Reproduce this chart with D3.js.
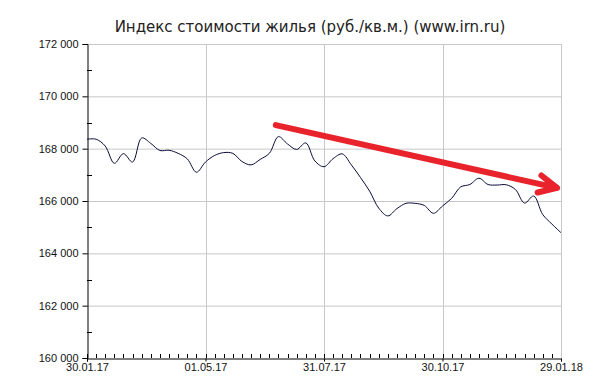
<!DOCTYPE html>
<html><head><meta charset="utf-8">
<script src="https://cdn.jsdelivr.net/npm/d3@7"></script>
<style>html,body{margin:0;padding:0;background:#fff;}</style>
</head><body>
<svg id="c" width="615" height="386"></svg>
<script>
const title = "Индекс стоимости жилья (руб./кв.м.) (www.irn.ru)";
const startDate = "2017-01-30";
const endDate = "2018-01-29";
const xTickDates = ["2017-01-30","2017-05-01","2017-07-31","2017-10-30","2018-01-29"];
const yTicks = [160000,162000,164000,166000,168000,170000,172000];
const yMinorTicks = [161000,163000,165000,167000,169000,171000];
// weekly index values, starting 30.01.17
const values = [
 168360,168360,168100,167440,167810,167490,168410,168200,167930,167940,
 167820,167610,167100,167490,167740,167850,167820,167510,167380,167590,
 167820,168460,168180,167970,168220,167530,167310,167620,167800,167380,
 166900,166380,165730,165430,165710,165910,165910,165830,165530,165810,
 166100,166540,166630,166870,166630,166610,166620,166440,165920,166190,
 165480,165120,164790
];
const arrowStart = ["2017-06-24", 168900];
const arrowEnd = ["2018-01-26", 166500];

const parse = d3.utcParse("%Y-%m-%d");
const t0 = parse(startDate);
const dates = values.map((v,i)=>d3.utcDay.offset(t0, i*7));
const data = values.map((v,i)=>({d:dates[i], v}));

const svg = d3.select("#c");
const L=87,R=561,T=44,B=358;
const x = d3.scaleUtc().domain([parse(startDate), parse(endDate)]).range([L,R]);
const y = d3.scaleLinear().domain([160000,172000]).range([B,T]);
const loc = d3.formatLocale({decimal:",",thousands:" ",grouping:[3],currency:["",""]});
const fy = loc.format(",d");
const fx = d3.utcFormat("%d.%m.%y");

// grid
const g = svg.append("g");
g.selectAll("line.hg").data(yTicks.slice(1)).join("line")
  .attr("x1",L).attr("x2",R).attr("y1",d=>y(d)+0.5).attr("y2",d=>y(d)+0.5)
  .attr("stroke","#c8c8c8");
g.selectAll("line.vg").data(xTickDates.slice(1).map(parse)).join("line")
  .attr("x1",d=>Math.round(x(d))+0.5).attr("x2",d=>Math.round(x(d))+0.5)
  .attr("y1",T).attr("y2",B).attr("stroke","#c8c8c8");

// title
svg.append("text").attr("x",310).attr("y",32).attr("text-anchor","middle")
  .attr("font-family","DejaVu Sans").attr("font-size",15).attr("fill","#222")
  .text(title);

// y axis
const yAxis = svg.append("g").attr("transform",`translate(${L+0.5},0)`)
  .call(d3.axisLeft(y).tickValues(yTicks).tickFormat(fy).tickSize(5).tickPadding(4));
yAxis.select(".domain").attr("stroke","#000");
yAxis.selectAll("text").attr("font-family","Liberation Sans").attr("font-size",11).attr("fill","#111");
svg.append("g").selectAll("line").data(yMinorTicks).join("line")
  .attr("x1",L).attr("x2",L+5).attr("y1",d=>Math.round(y(d))+0.5).attr("y2",d=>Math.round(y(d))+0.5)
  .attr("stroke","#000");

// x axis
const xAxis = svg.append("g").attr("transform",`translate(0,${B+0.5})`)
  .call(d3.axisBottom(x).tickValues(xTickDates.map(parse)).tickFormat(fx).tickSize(3).tickPadding(1));
xAxis.select(".domain").attr("stroke","#000");
xAxis.selectAll("text").attr("font-family","Liberation Sans").attr("font-size",11).attr("fill","#111").attr("dy","0.75em");
svg.append("g").selectAll("line").data(d3.utcMonday.range(parse(startDate), parse(endDate))).join("line")
  .attr("x1",d=>Math.round(x(d))+0.5).attr("x2",d=>Math.round(x(d))+0.5)
  .attr("y1",B).attr("y2",B-4).attr("stroke","#000");

// line
const line = d3.line().x(d=>x(d.d)).y(d=>y(d.v)).curve(d3.curveCatmullRom.alpha(0.5));
svg.append("path").datum(data).attr("d",line).attr("fill","none")
  .attr("stroke","#0a0a3a").attr("stroke-width",1);

// arrow annotation
const ax0 = x(parse(arrowStart[0])), ay0 = y(arrowStart[1]);
const ax1 = x(parse(arrowEnd[0])), ay1 = y(arrowEnd[1]);
const ang = Math.atan2(ay1-ay0, ax1-ax0);
const hl = 20, ha = 0.45;
const b1 = [ax1 - hl*Math.cos(ang-ha), ay1 - hl*Math.sin(ang-ha)];
const b2 = [ax1 - hl*Math.cos(ang+ha), ay1 - hl*Math.sin(ang+ha)];
svg.append("path")
  .attr("d",`M${ax0},${ay0}L${ax1},${ay1}M${b1[0]},${b1[1]}L${ax1},${ay1}L${b2[0]},${b2[1]}`)
  .attr("fill","none").attr("stroke","#e8232b").attr("stroke-width",6)
  .attr("stroke-linecap","round").attr("stroke-linejoin","round");
</script>
</body></html>
